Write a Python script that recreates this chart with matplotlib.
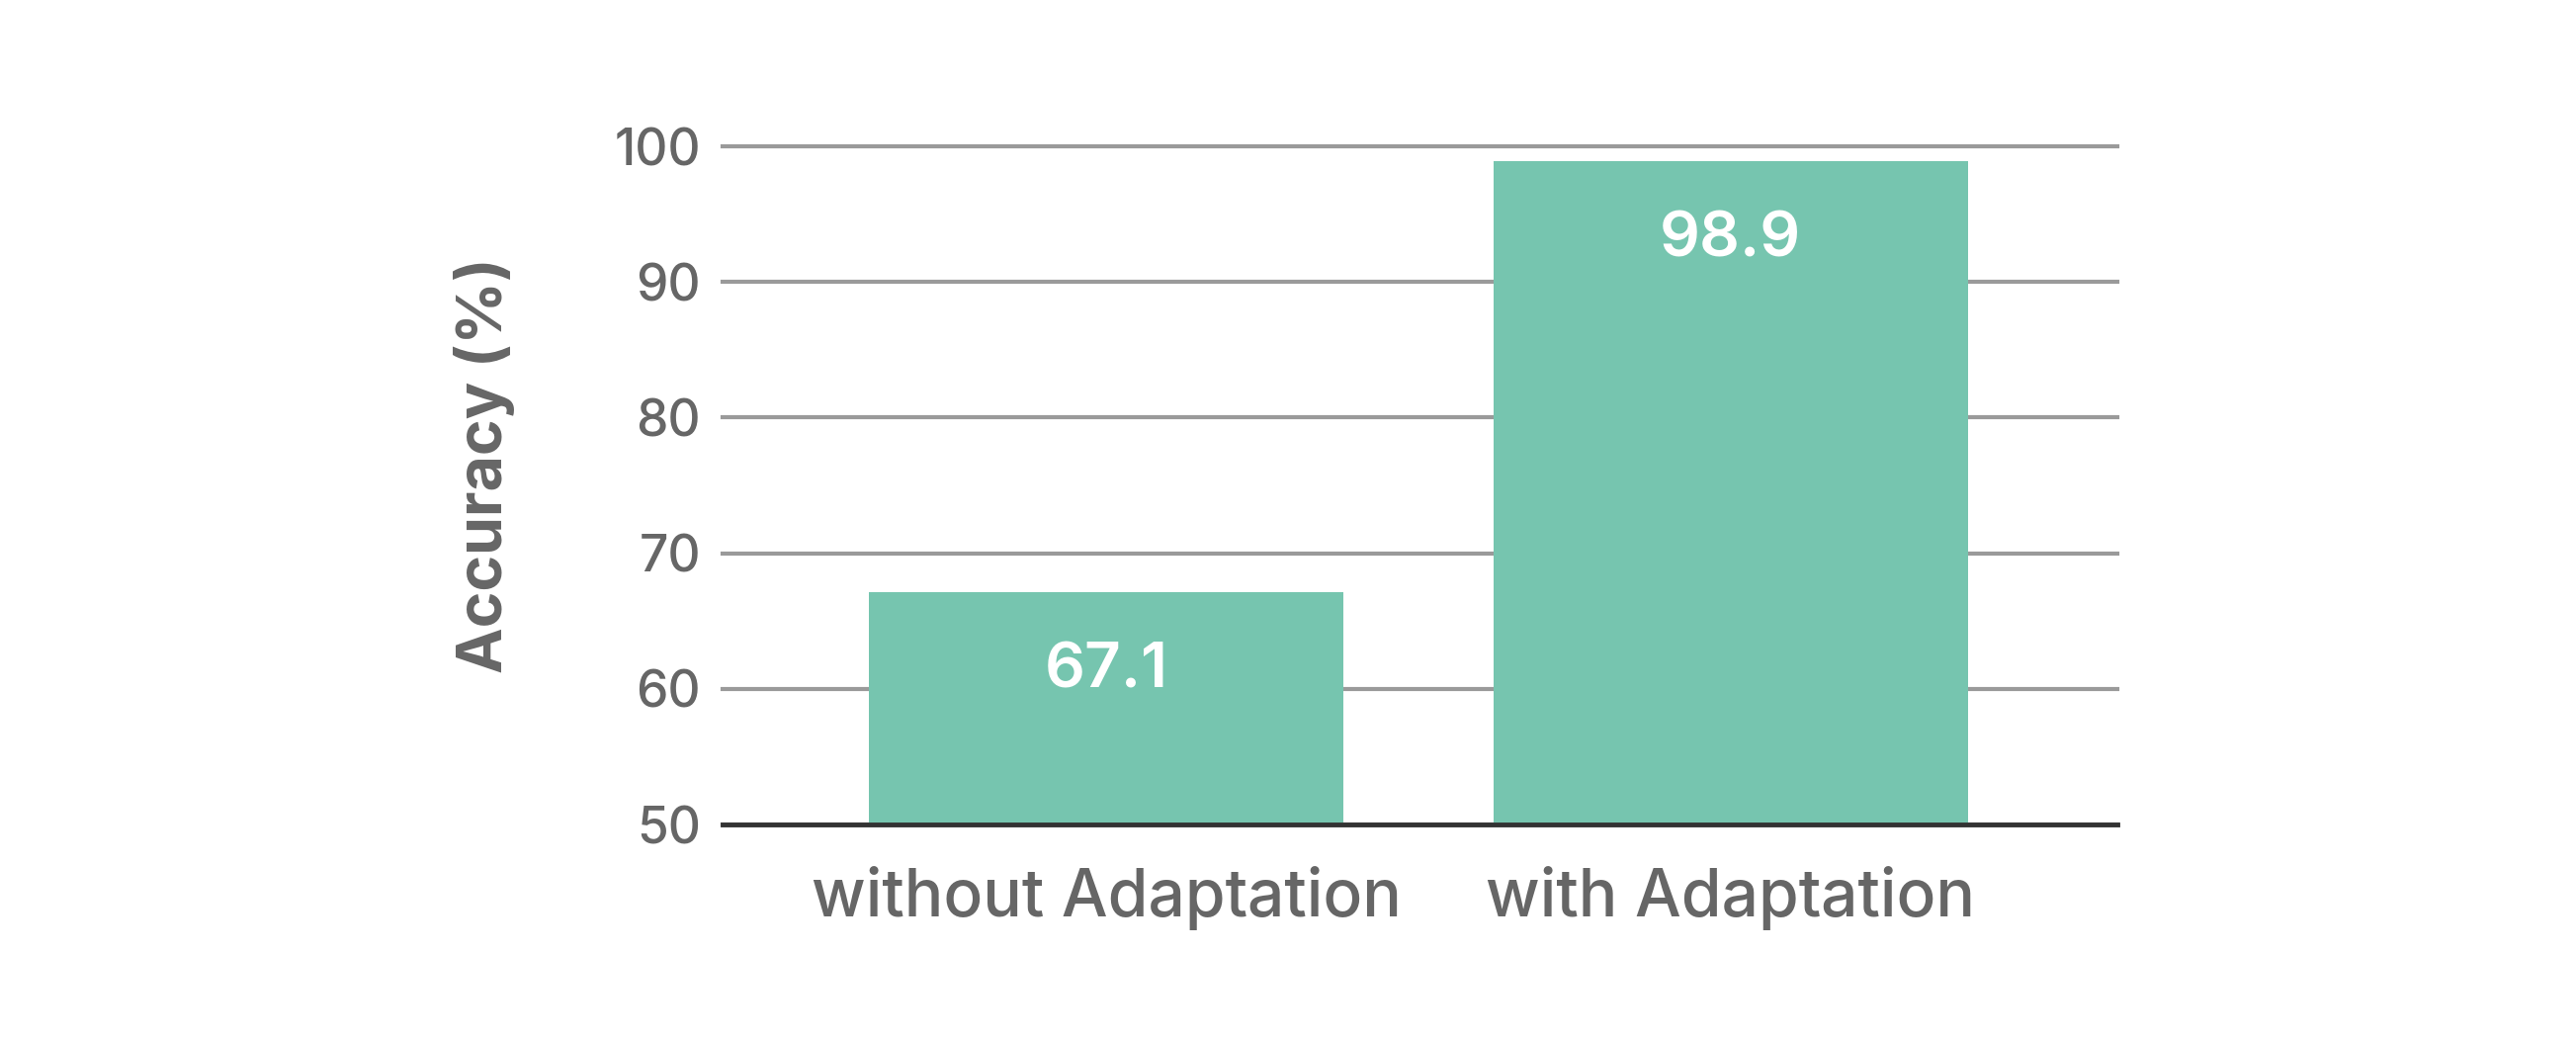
import matplotlib
matplotlib.use("Agg")
import matplotlib.pyplot as plt

categories = ["without Adaptation", "with Adaptation"]
accuracy = [67.1, 98.9]
yticks = [50, 60, 70, 80, 90, 100]

BAR_COLOR = "#76c5af"
TEXT_COLOR = "#666666"
GRID_COLOR = "#9a9a9a"

plt.rcParams["font.family"] = ["Inter", "DejaVu Sans"]

fig = plt.figure(figsize=(26.06, 10.5), dpi=100)
ax = fig.add_axes([0.2805, 0.2057, 0.822 - 0.2805, 0.859 - 0.2057])

x = list(range(len(categories)))
ax.bar(x, accuracy, width=0.76, bottom=0, color=BAR_COLOR, zorder=3)

for xi, v in zip(x, accuracy):
    ax.text(xi, v - 5.8, f"{v:.1f}", ha="center", va="center",
            color="white", fontsize=46, fontweight="semibold", zorder=4)

ax.set_ylim(50, 100)
ax.set_xlim(-0.615, 1.62)
ax.set_yticks(yticks)
ax.set_xticks(x)
ax.set_xticklabels(categories)
ax.tick_params(axis="y", length=0, pad=16, labelsize=37, labelcolor=TEXT_COLOR)
ax.tick_params(axis="x", length=0, pad=30, labelsize=47.5, labelcolor=TEXT_COLOR)
for lbl in ax.get_xticklabels():
    lbl.set_fontweight("medium")
for lbl in ax.get_yticklabels():
    lbl.set_fontweight("medium")

ax.grid(axis="y", color=GRID_COLOR, linewidth=3, zorder=1)
for gl in ax.get_ygridlines():
    gl.set_clip_on(False)
ax.set_axisbelow(True)
for side in ["top", "right", "left"]:
    ax.spines[side].set_visible(False)
ax.spines["bottom"].set_color("#333333")
ax.spines["bottom"].set_linewidth(3.5)
ax.spines["bottom"].set_zorder(5)

ax.set_ylabel("Accuracy (%)", fontsize=45, fontweight="bold",
              color=TEXT_COLOR)
ax.yaxis.set_label_coords(-0.149, 0.53)

fig.savefig("out.png", dpi=100, facecolor="white")
